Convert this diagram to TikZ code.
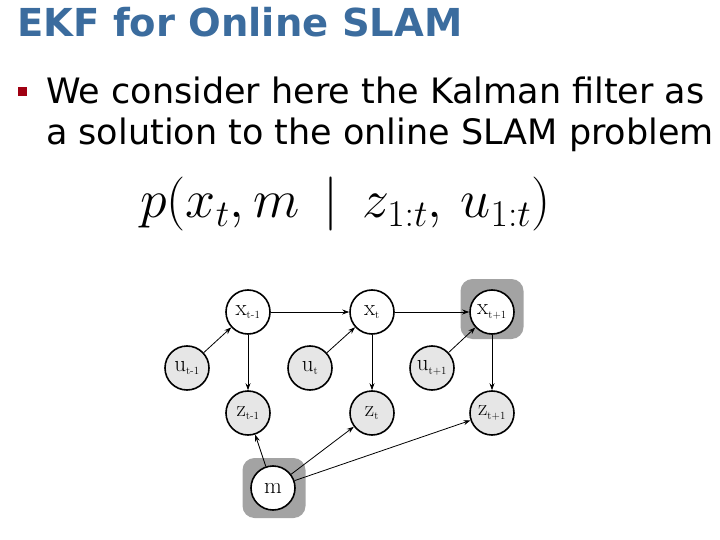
\RequirePackage{fix-cm}
\documentclass[tikz,border=0pt]{standalone}
\usepackage{fontspec}
\setsansfont{DejaVu Sans}
\usepackage{amsmath}
\usetikzlibrary{
  arrows.meta,
  positioning
}
\definecolor{azultitulo}{HTML}{3B6C9E}
\definecolor{vermelho}{HTML}{A00012}
\definecolor{cinza}{HTML}{E6E6E6}
\definecolor{cinzaescuro}{HTML}{A3A3A3}
\newcommand{\rotulo}[2]{$\mathrm{#1}_{\text{\fontsize{11}{11}\selectfont #2}}$}

\begin{document}
\begin{tikzpicture}[
    x=1pt,y=-1pt,
    no/.style={
    draw,
    circle,
    line width=1.6pt,
    minimum size=44pt,
    inner sep=0pt,
    fill=white,
    font=\fontsize{23}{23}\selectfont
    },
    obs/.style={no,fill=cinza},
    caixa/.style={
    fill=cinzaescuro,
    rounded corners=12pt,
    minimum width=63pt,
    minimum height=60pt
    },
    linha/.style={anchor=base west,inner sep=0pt,
      font=\sffamily\fontsize{35}{35}\selectfont},
    seta/.style={-{Stealth[length=7pt,width=5pt]},line width=0.8pt}
    ]
    \useasboundingbox (0,0) rectangle (720,540);
    
    % titulo e texto
    \node[anchor=base west,inner sep=0pt,text=azultitulo,
      font=\sffamily\bfseries\fontsize{38.5}{38.5}\selectfont] (titulo) at (17,37)
    {EKF for Online SLAM};
    
    \node[fill=vermelho,minimum size=9pt,inner sep=0pt] (marca) at (22,92) {};
    
    \node[linha] (texto1) at (46,104) {We consider here the Kalman filter as};
    \node[linha] (texto2) at (46,145) {a solution to the online SLAM problem};
    
    \node[anchor=base west,inner sep=0pt,font=\fontsize{54}{54}\selectfont]
      (formula) at (140,218)
    {$p(x_t, m \,\mid\, z_{1:t},\, u_{1:t})$};
    
    % caixas de realce
    \node[caixa] (caixaX) at (492,309) {};
    \node[caixa] (caixaM) at (274,488) {};
    
    % estados
    \node[no] (xa) at (248,312) {\rotulo{x}{t-1}};
    \node[no] (xb) at (372,312) {\rotulo{x}{t}};
    \node[no] (xc) at (492,312) {\rotulo{x}{t+1}};
    
    % controles
    \node[obs] (ua) at (187,368) {\rotulo{u}{t-1}};
    \node[obs] (ub) at (310,368) {\rotulo{u}{t}};
    \node[obs] (uc) at (432,368) {\rotulo{u}{t+1}};
    
    % observacoes
    \node[obs] (za) at (248,413) {\rotulo{z}{t-1}};
    \node[obs] (zb) at (372,413) {\rotulo{z}{t}};
    \node[obs] (zc) at (492,413) {\rotulo{z}{t+1}};
    
    % mapa
    \node[no] (m) at (273,488) {$\mathrm{m}$};
    
    \draw[seta] (xa)--(xb);
    \draw[seta] (xb)--(xc);
    \draw[seta] (ua)--(xa);
    \draw[seta] (ub)--(xb);
    \draw[seta] (uc)--(xc);
    \draw[seta] (xa)--(za);
    \draw[seta] (xb)--(zb);
    \draw[seta] (xc)--(zc);
    \draw[seta] (m)--(za);
    \draw[seta] (m)--(zb);
    \draw[seta] (m)--(zc);
    
    \end{tikzpicture}
\end{document}
